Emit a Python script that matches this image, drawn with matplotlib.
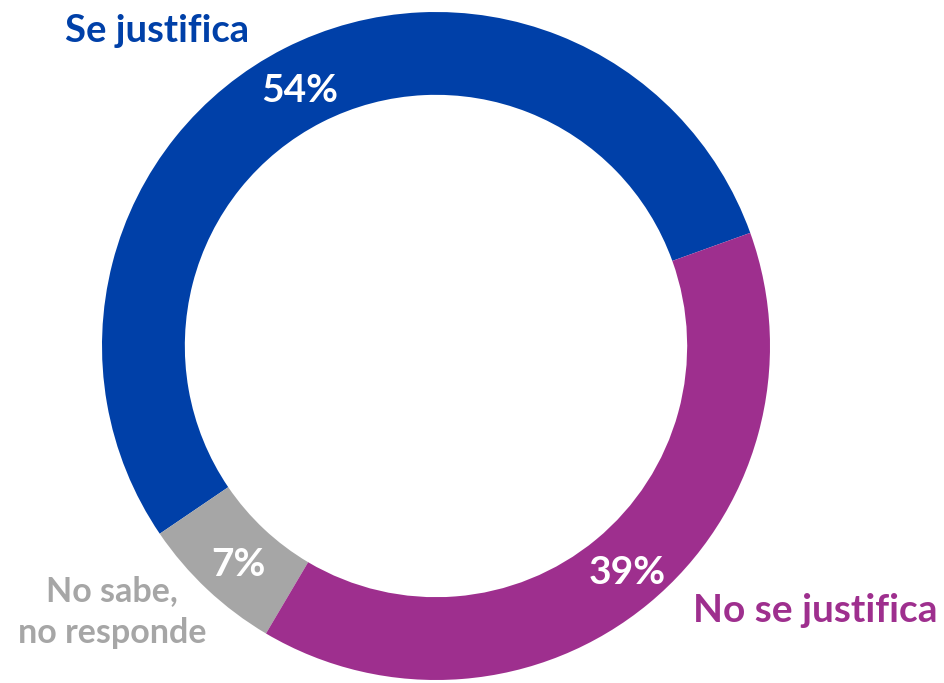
import matplotlib
matplotlib.use("Agg")
import matplotlib.pyplot as plt

categories = ["Se justifica", "No sabe,\nno responde", "No se justifica"]
values = [54, 7, 39]
colors = ["#0040A8", "#A6A6A6", "#9E2F8E"]
pct_labels = ["54%", "7%", "39%"]

W, H = 945, 683
fig = plt.figure(figsize=(W / 100, H / 100), dpi=100)
cx, cy, R = 436, 346, 334
ax = fig.add_axes([(cx - R) / W, (H - cy - R) / H, 2 * R / W, 2 * R / H])
wedges, _ = ax.pie(values, colors=colors, startangle=19.8, counterclock=True,
                   radius=1.0, wedgeprops=dict(width=0.248, edgecolor="none"))
ax.set_xlim(-1, 1)
ax.set_ylim(-1, 1)
ax.set_aspect("equal")
ax.axis("off")

font = "Lato"

def px(x, y):
    return (x / W, 1 - y / H)

# percent labels
pct_pos = [(300, 90), (238, 565), (627, 572)]
for lab, (x, y) in zip(pct_labels, pct_pos):
    fig.text(*px(x, y), lab, ha="center", va="center", color="white",
             fontsize=28, fontweight="bold", family=font)

# category labels
fig.text(*px(157, 31), categories[0], ha="center", va="center", color=colors[0],
         fontsize=27.5, fontweight="bold", family=font)
fig.text(*px(815, 610), categories[2], ha="center", va="center", color=colors[2],
         fontsize=28, fontweight="bold", family=font)
fig.text(*px(112, 612), categories[1], ha="center", va="center", color=colors[1],
         fontsize=24.5, fontweight="bold", family=font, linespacing=1.36)

fig.savefig("out.png", dpi=100)
